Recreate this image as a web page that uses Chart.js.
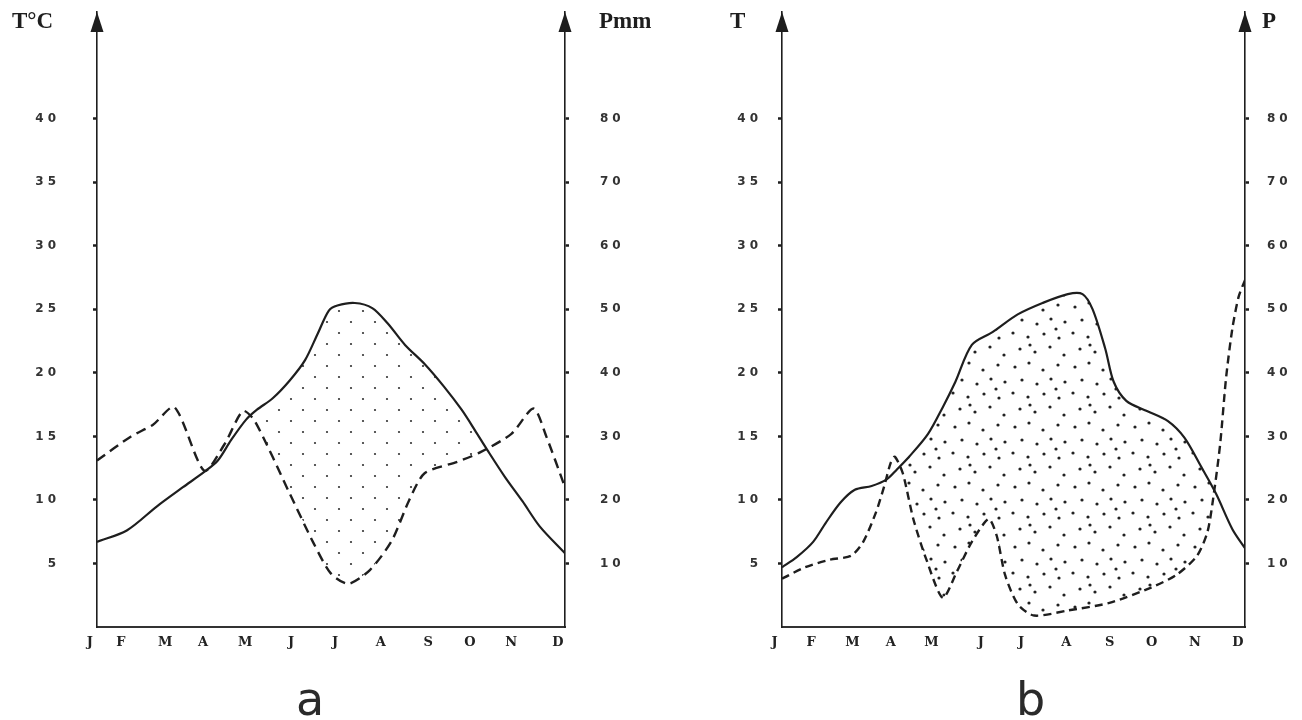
<!DOCTYPE html>
<html>
<head>
<meta charset="utf-8">
<script src="https://cdn.jsdelivr.net/npm/chart.js@4.4.1/dist/chart.umd.min.js"></script>
<style>
  body { margin: 0; background: #fff; width: 1302px; height: 720px; position: relative; overflow: hidden; }
  canvas { position: absolute; top: 0; }
  .lbl { position: absolute; font-family: 'Liberation Serif', serif; font-weight: bold; font-size: 23px; color: #1e1e1e; line-height: 1; }
  .cap { position: absolute; font-family: 'DejaVu Sans', sans-serif; font-size: 46px; color: #2a2a2a; line-height: 1; }
</style>
</head>
<body>
<canvas id="chart-a" width="650" height="720" style="left:0"></canvas>
<canvas id="chart-b" width="652" height="720" style="left:650px"></canvas>
<div class="lbl" style="left:12px;top:9px">T°C</div>
<div class="lbl" style="left:599px;top:9px">Pmm</div>
<div class="lbl" style="left:730px;top:9px">T</div>
<div class="lbl" style="left:1262px;top:9px">P</div>
<div class="cap" style="left:296px;top:676px">a</div>
<div class="cap" style="left:1016px;top:676px">b</div>
<script>
// month letters and where they sit on the x axis (month units, J = 0, D = 11)
const months = ['J', 'F', 'M', 'A', 'M', 'J', 'J', 'A', 'S', 'O', 'N', 'D'];
const monthPosA = [-0.12, 0.61, 1.65, 2.54, 3.53, 4.61, 5.64, 6.72, 7.83, 8.81, 9.78, 10.88];
const monthPosB = [-0.13, 0.74, 1.72, 2.63, 3.6, 4.77, 5.73, 6.8, 7.83, 8.83, 9.86, 10.88];
const tTicks = [5, 10, 15, 20, 25, 30, 35, 40];
const pTicks = [10, 20, 30, 40, 50, 60, 70, 80];

// diagram a : temperature (°C) and precipitation (mm)
const tempAx = [0, 0.7, 1.41, 2.02, 2.52, 2.84, 3.15, 3.5, 3.76, 4.13, 4.53, 4.89, 5.19, 5.45, 5.65, 6.06, 6.47, 6.83, 7.24, 7.7, 8.16, 8.57, 8.88, 9.18, 9.59, 10.0, 10.41, 11];
const tempAy = [6.7, 7.6, 9.5, 11.0, 12.2, 13.1, 14.7, 16.3, 17.1, 18.0, 19.4, 21.0, 23.1, 24.9, 25.3, 25.5, 25.1, 23.9, 22.2, 20.7, 18.9, 17.1, 15.5, 13.9, 11.8, 9.9, 7.9, 5.8];
const precAx = [0, 0.8, 1.31, 1.82, 2.52, 3.0, 3.43, 3.71, 4.53, 5.09, 5.5, 5.91, 6.42, 6.93, 7.34, 7.7, 8.47, 8.98, 9.74, 10.26, 10.56, 11];
const precAy = [26.2, 30, 31.8, 34.6, 24.6, 28.8, 34, 32.4, 21, 13.2, 8.4, 6.8, 9, 13.6, 20, 24.2, 26, 27.4, 30.4, 34.4, 30, 22];
const dryFromA = 3.4;

// diagram b
const tempBx = [0, 0.35, 0.74, 1.04, 1.39, 1.73, 2.13, 2.48, 2.73, 3.02, 3.47, 3.82, 4.12, 4.51, 5.0, 5.6, 6.19, 6.79, 7.14, 7.38, 7.68, 7.88, 8.18, 8.67, 9.17, 9.56, 9.96, 10.31, 10.7, 11];
const tempBy = [4.7, 5.5, 6.7, 8.2, 9.8, 10.8, 11.1, 11.6, 12.4, 13.4, 15.2, 17.3, 19.3, 22.2, 23.2, 24.6, 25.5, 26.2, 26.2, 25.0, 21.9, 19.3, 17.8, 17.0, 16.2, 14.9, 12.6, 10.5, 7.7, 6.2];
const precBx = [0, 0.55, 1.14, 1.64, 1.93, 2.23, 2.43, 2.58, 2.68, 2.87, 3.12, 3.42, 3.82, 4.16, 4.51, 4.91, 5.1, 5.3, 5.6, 5.99, 6.79, 7.78, 8.77, 9.37, 9.86, 10.11, 10.26, 10.41, 10.55, 10.7, 10.85, 11];
const precBy = [7.6, 9.4, 10.6, 11.2, 13.4, 18, 22.2, 25.8, 26.8, 24.2, 17, 10.8, 4.6, 8.8, 13.4, 17, 14.4, 8.2, 3.6, 1.8, 2.6, 3.8, 6.2, 8.2, 11.2, 15, 21, 28.8, 39.2, 47, 52, 54.6];
const dryFromB = 2.48;

const ink = '#1e1e1e';

// stipple patterns for the dry season
const dotPattern = (w, h, dots, r, color) => {
  const tile = document.createElement('canvas');
  tile.width = w;
  tile.height = h;
  const c = tile.getContext('2d');
  c.fillStyle = color;
  dots.forEach(([x, y]) => {
    c.beginPath();
    c.arc(x, y, r, 0, Math.PI * 2);
    c.fill();
  });
  return c.createPattern(tile, 'repeat');
};
const patA = dotPattern(24, 22, [[3, 3], [15, 14]], 1.1, '#333');
const patB = dotPattern(60, 60, [
  [5, 7], [19, 3], [33, 10], [48, 5], [12, 20], [27, 24], [41, 19], [55, 22],
  [3, 33], [18, 37], [34, 34], [49, 38], [10, 49], [25, 52], [40, 47], [54, 55],
  [46, 29], [20, 45],
], 1.6, '#222');

// arrow heads on top of both vertical axes
const axisArrows = {
  id: 'axisArrows',
  beforeDraw(chart) {
    chart.ctx.letterSpacing = '4px';
  },
  afterDraw(chart) {
    const ctx = chart.ctx;
    const top = chart.chartArea.top;
    ctx.save();
    ctx.fillStyle = ink;
    [chart.scales.yT.right, chart.scales.yP.left].forEach(x => {
      ctx.beginPath();
      ctx.moveTo(x, top);
      ctx.lineTo(x - 6.5, top + 20);
      ctx.lineTo(x + 6.5, top + 20);
      ctx.closePath();
      ctx.fill();
    });
    ctx.restore();
  },
};

const toPoints = (xs, ys) => xs.map((x, i) => ({ x, y: ys[i] }));

// keep the axis sizes fixed so the plot box lines up with the scan
const fixSize = (w, h) => s => {
  if (w != null) s.width = w;
  if (h != null) s.height = h;
  s.paddingTop = 0;
  s.paddingBottom = 0;
  s.paddingLeft = 0;
  s.paddingRight = 0;
};

const makeChart = (id, opt) => new Chart(document.getElementById(id), {
  type: 'line',
  data: {
    datasets: [
      {
        label: 'T',
        data: toPoints(opt.tx, opt.ty),
        yAxisID: 'yT',
        borderColor: ink,
        borderWidth: 2.2,
        pointRadius: 0,
        tension: 0.3,
        fill: false,
      },
      {
        label: 'P',
        data: toPoints(opt.px, opt.py),
        yAxisID: 'yP',
        borderColor: ink,
        borderWidth: 2.4,
        borderDash: opt.dash,
        pointRadius: 0,
        tension: 0.25,
        fill: false,
      },
      // dry season: temperature above the precipitation curve
      {
        label: 'dry',
        data: toPoints(opt.tx, opt.ty).filter(p => p.x >= opt.dryFrom),
        yAxisID: 'yT',
        borderWidth: 0,
        borderColor: 'rgba(0,0,0,0)',
        pointRadius: 0,
        tension: 0.3,
        fill: { target: 1, above: opt.pattern, below: 'rgba(0,0,0,0)' },
      },
    ],
  },
  options: {
    responsive: false,
    animation: false,
    layout: { padding: { top: 12, bottom: 0, left: 0, right: 0 } },
    scales: {
      x: {
        type: 'linear',
        min: 0,
        max: 11,
        afterFit: fixSize(null, 93),
        afterBuildTicks: s => { s.ticks = opt.monthPos.map(v => ({ value: v })); },
        grid: { display: false, drawTicks: false },
        border: { display: true, color: '#333', width: 2 },
        ticks: {
          autoSkip: false,
          maxRotation: 0,
          padding: 8,
          color: '#222',
          font: { family: 'DejaVu Serif', weight: 'bold', size: 13 },
          callback: (v, i) => months[i],
        },
      },
      yT: {
        position: 'left',
        min: 0,
        max: 48.4,
        afterFit: fixSize(opt.leftW, null),
        afterBuildTicks: s => { s.ticks = tTicks.map(v => ({ value: v })); },
        grid: { drawOnChartArea: false, tickLength: 4, tickWidth: 2.5, color: ink },
        border: { display: true, color: ink, width: 1.6 },
        ticks: {
          padding: opt.padL,
          color: '#333',
          font: { family: 'DejaVu Sans', weight: 'bold', size: 12 },
        },
      },
      yP: {
        position: 'right',
        min: 0,
        max: 96.8,
        afterFit: fixSize(opt.rightW, null),
        afterBuildTicks: s => { s.ticks = pTicks.map(v => ({ value: v })); },
        grid: { drawOnChartArea: false, tickLength: 4, tickWidth: 2.5, color: ink },
        border: { display: true, color: ink, width: 1.6 },
        ticks: {
          padding: opt.padR,
          color: '#333',
          font: { family: 'DejaVu Sans', weight: 'bold', size: 12 },
        },
      },
    },
    plugins: {
      legend: { display: false },
      tooltip: { enabled: false },
      filler: { propagate: false, drawTime: 'beforeDatasetsDraw' },
    },
  },
  plugins: [axisArrows],
});

makeChart('chart-a', {
  tx: tempAx, ty: tempAy, px: precAx, py: precAy, dryFrom: dryFromA,
  monthPos: monthPosA, pattern: patA, dash: [10, 6],
  leftW: 97, rightW: 85, padL: 33, padR: 31,
});
makeChart('chart-b', {
  tx: tempBx, ty: tempBy, px: precBx, py: precBy, dryFrom: dryFromB,
  monthPos: monthPosB, pattern: patB, dash: [8, 5],
  leftW: 132, rightW: 57, padL: 16, padR: 18,
});
</script>
</body>
</html>
